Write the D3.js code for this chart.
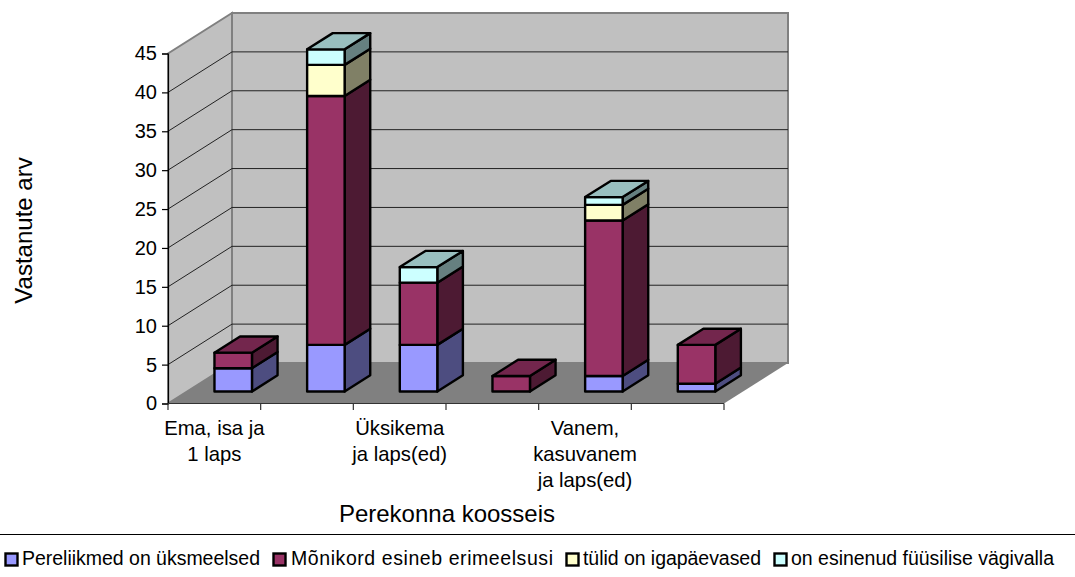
<!DOCTYPE html>
<html>
<head>
<meta charset="utf-8">
<script src="https://cdn.jsdelivr.net/npm/d3@7"></script>
<style>
  html, body { margin: 0; padding: 0; background: #fff; }
  svg { display: block; }
  text { font-family: "Liberation Sans", Arial, sans-serif; fill: #000; }
</style>
</head>
<body>
<div id="chart"></div>
<script>
// data
var categories = ["a", "b", "c", "d", "e", "f"];
var tickLabels = [["Ema, isa ja", "1 laps"], [], ["Üksikema", "ja laps(ed)"], [], ["Vanem,", "kasuvanem", "ja laps(ed)"], []];
var seriesNames = ["Pereliikmed on üksmeelsed", "Mõnikord esineb erimeelsusi", "tülid on igapäevased", "on esinenud füüsilise vägivalla"];
var yTicks = [0, 5, 10, 15, 20, 25, 30, 35, 40, 45];
var uksmeelsed = [3, 6, 6, 0, 2, 1];
var erimeelsusi = [2, 32, 8, 2, 20, 5];
var tulid = [0, 4, 0, 0, 2, 0];
var vagivald = [0, 2, 2, 0, 1, 0];
var seriesValues = [uksmeelsed, erimeelsusi, tulid, vagivald];

var frontColors = ["#9999ff", "#993366", "#ffffcc", "#ccffff"];
var sideColors = ["#4d4d80", "#4d1a33", "#808066", "#668080"];
var topColors = ["#7373bf", "#73264d", "#bfbf99", "#99bfbf"];

//SVG area dimensions
var svgWidth = 1075;
var svgHeight = 577;

// depth of the floor, and where the bars sit in it
var depthX = 64, depthY = -40.5;
var depth = d3.scaleLinear().domain([0, 1]).range([0, 1]);
var barFront = 0.295, barBack = 0.695;

var x = d3.scaleBand().domain(categories).range([168, 724]).paddingInner(0).paddingOuter(0);
var y = d3.scaleLinear().domain([0, 45]).range([403.5, 53.5]);

function dx(d) { return depth(d) * depthX; }
function dy(d) { return depth(d) * depthY; }

var svg = d3.select("#chart")
  .append("svg")
  .attr("width", svgWidth)
  .attr("height", svgHeight);

var x0 = x.range()[0], x1 = x.range()[1];
var y0 = y(0), yTop = y(45);

function pts(a) { return a.map(function(p) { return p[0] + "," + p[1]; }).join(" "); }

// walls and floor
svg.append("polygon")
  .attr("points", pts([[x0, y0], [x0 + depthX, y0 + depthY], [x0 + depthX, yTop + depthY], [x0, yTop]]))
  .attr("fill", "#c0c0c0").attr("stroke", "#808080").attr("stroke-width", 2);
svg.append("polygon")
  .attr("points", pts([[x0 + depthX, y0 + depthY], [x1 + depthX, y0 + depthY], [x1 + depthX, yTop + depthY], [x0 + depthX, yTop + depthY]]))
  .attr("fill", "#c0c0c0").attr("stroke", "#808080").attr("stroke-width", 2);
svg.append("polygon")
  .attr("points", pts([[x0, y0], [x0 + depthX, y0 + depthY], [x1 + depthX, y0 + depthY], [x1, y0]]))
  .attr("fill", "#808080");

// gridlines
yTicks.filter(function(t) { return t > 0 && t < 45; }).forEach(function(t) {
  svg.append("polyline")
    .attr("points", pts([[x0, y(t)], [x0 + depthX, y(t) + depthY], [x1 + depthX, y(t) + depthY]]))
    .attr("fill", "none").attr("stroke", "#222").attr("stroke-width", 1);
});

// axes
var yAxis = d3.axisLeft(y).tickValues(yTicks).tickSize(6).tickPadding(5);
var yG = svg.append("g").attr("transform", "translate(" + x0 + ",0)").call(yAxis);
yG.selectAll("line").attr("stroke", "#000").attr("stroke-width", 1.2);
yG.select(".domain").attr("stroke", "#000").attr("stroke-width", 1.2);
yG.selectAll("text").attr("font-size", 20).attr("font-family", "Liberation Sans");

svg.append("line").attr("x1", x0).attr("x2", x1).attr("y1", y0).attr("y2", y0)
  .attr("stroke", "#333").attr("stroke-width", 1.2);
d3.range(categories.length + 1).forEach(function(i) {
  var tx = x0 + i * x.step();
  svg.append("line").attr("x1", tx).attr("x2", tx).attr("y1", y0).attr("y2", y0 + 6.5)
    .attr("stroke", "#333").attr("stroke-width", 1.2);
});

tickLabels.forEach(function(lines, i) {
  lines.forEach(function(l, j) {
    svg.append("text")
      .attr("x", x(categories[i]) + x.bandwidth() / 2)
      .attr("y", 435 + j * 26)
      .attr("text-anchor", "middle")
      .attr("font-size", 20.3)
      .text(l);
  });
});

// bars, drawn left to right and bottom to top
var barW = 37.5;
categories.forEach(function(c, i) {
  var left = x(c) + x.bandwidth() / 2 - barW / 2 + dx(barFront);
  var right = left + barW;
  var ox = dx(barBack) - dx(barFront);
  var oy = dy(barBack) - dy(barFront);
  var off = dy(barFront);
  var sum = 0;
  var lastSeries = -1;
  seriesValues.forEach(function(vals, s) {
    var v = vals[i];
    if (v === 0) return;
    var yb = y(sum) + off;
    var yt = y(sum + v) + off;
    sum += v;
    lastSeries = s;
    var g = svg.append("g").attr("stroke", "#000").attr("stroke-width", 2.4).attr("stroke-linejoin", "round");
    g.append("polygon")
      .attr("points", pts([[right, yb], [right + ox, yb + oy], [right + ox, yt + oy], [right, yt]]))
      .attr("fill", sideColors[s]);
    g.append("rect")
      .attr("x", left).attr("y", yt).attr("width", barW).attr("height", yb - yt)
      .attr("fill", frontColors[s]);
  });
  if (lastSeries >= 0) {
    var ytop = y(sum) + off;
    svg.append("polygon")
      .attr("points", pts([[left, ytop], [left + ox, ytop + oy], [right + ox, ytop + oy], [right, ytop]]))
      .attr("fill", topColors[lastSeries])
      .attr("stroke", "#000").attr("stroke-width", 2.4).attr("stroke-linejoin", "round");
  }
});

// axis titles
svg.append("text")
  .attr("transform", "translate(32,230.5) rotate(-90)")
  .attr("text-anchor", "middle")
  .attr("font-size", 24)
  .text("Vastanute arv");

svg.append("text")
  .attr("x", 447).attr("y", 522)
  .attr("text-anchor", "middle")
  .attr("font-size", 24)
  .text("Perekonna koosseis");

// legend
svg.append("line").attr("x1", 0).attr("x2", svgWidth).attr("y1", 534.5).attr("y2", 534.5)
  .attr("stroke", "#000").attr("stroke-width", 1);

var legendX = [5.5, 273.5, 566.5, 774.5];
var legendTextX = [22, 291, 583, 791];
var legendTextW = [238, 262, 178, 263];
seriesNames.forEach(function(name, s) {
  svg.append("rect")
    .attr("x", legendX[s]).attr("y", 553.5).attr("width", 12).attr("height", 12)
    .attr("fill", frontColors[s]).attr("stroke", "#000").attr("stroke-width", 2.4);
  svg.append("text")
    .attr("x", legendTextX[s]).attr("y", 565)
    .attr("font-size", 19.5)
    .attr("textLength", legendTextW[s])
    .text(name);
});
</script>
</body>
</html>
